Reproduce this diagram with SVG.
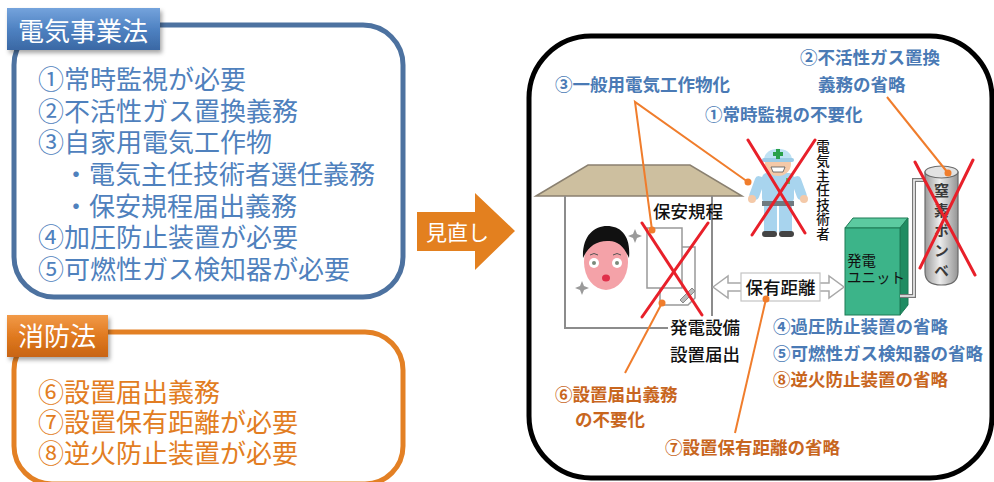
<svg xmlns="http://www.w3.org/2000/svg" width="994" height="482" viewBox="0 0 994 482">
  <style>
    text { font-family: "Noto Sans CJK JP", "Noto Sans CJK SC", sans-serif; }
    .item-blue { font-size: 26px; fill: #4f81bd; }
    .item-orange { font-size: 26px; fill: #e27d22; }
    .title { font-size: 26px; fill: #ffffff; }
    .lbl-blue { font-size: 17.5px; font-weight: 700; fill: #4a7ab5; }
    .lbl-orange { font-size: 17.5px; font-weight: 700; fill: #c8661e; }
    .lbl-black { font-size: 17.5px; font-weight: 500; fill: #111111; }
    .vert { writing-mode: vertical-rl; }
    .cross { stroke: #e8202a; stroke-width: 3; stroke-linecap: round; fill: none; }
    .lead { stroke: #f07d2c; stroke-width: 2; fill: none; }
    .dot { fill: #f07d2c; }
    .wall { stroke: #8c8c8c; stroke-width: 2; fill: none; }
  </style>
  <defs>
    <linearGradient id="gBlue" x1="0" y1="0" x2="0" y2="1">
      <stop offset="0" stop-color="#74a3dc"/>
      <stop offset="0.5" stop-color="#4f82c2"/>
      <stop offset="1" stop-color="#3a68a4"/>
    </linearGradient>
    <linearGradient id="gOrange" x1="0" y1="0" x2="0" y2="1">
      <stop offset="0" stop-color="#f29a48"/>
      <stop offset="0.5" stop-color="#e07a20"/>
      <stop offset="1" stop-color="#c86412"/>
    </linearGradient>
    <linearGradient id="gCyl" x1="0" y1="0" x2="1" y2="0">
      <stop offset="0" stop-color="#9a9a9a"/>
      <stop offset="0.45" stop-color="#ececec"/>
      <stop offset="1" stop-color="#949494"/>
    </linearGradient>
    <filter id="shadow" x="-10%" y="-20%" width="130%" height="160%">
      <feDropShadow dx="2" dy="3" stdDeviation="2" flood-color="#000" flood-opacity="0.35"/>
    </filter>
  </defs>

  <rect width="994" height="482" fill="#ffffff"/>

  <!-- Electricity Business Act panel -->
  <g id="panel-denki">
    <rect x="14" y="25" width="389" height="272" rx="40" fill="none" stroke="#4d72a0" stroke-width="5"/>
    <rect x="7" y="8" width="153" height="42" fill="url(#gBlue)" filter="url(#shadow)"/>
    <text class="title" x="18" y="41">電気事業法</text>
    <text class="item-blue">
      <tspan x="38" y="89">①常時監視が必要</tspan>
      <tspan x="38" y="120.7">②不活性ガス置換義務</tspan>
      <tspan x="38" y="152.3">③自家用電気工作物</tspan>
      <tspan x="63" y="184">・電気主任技術者選任義務</tspan>
      <tspan x="63" y="215.7">・保安規程届出義務</tspan>
      <tspan x="38" y="247.3">④加圧防止装置が必要</tspan>
      <tspan x="38" y="279">⑤可燃性ガス検知器が必要</tspan>
    </text>
  </g>

  <!-- Fire Service Act panel -->
  <g id="panel-shobo">
    <rect x="14" y="332" width="389" height="152" rx="38" fill="none" stroke="#e38024" stroke-width="5"/>
    <rect x="7" y="315" width="101" height="42" fill="url(#gOrange)" filter="url(#shadow)"/>
    <text class="title" x="18" y="346">消防法</text>
    <text class="item-orange">
      <tspan x="38" y="402">⑥設置届出義務</tspan>
      <tspan x="38" y="432">⑦設置保有距離が必要</tspan>
      <tspan x="38" y="463">⑧逆火防止装置が必要</tspan>
    </text>
  </g>

  <!-- Review arrow -->
  <g id="arrow-review">
    <path d="M417,212 H475 V193 L515,231 L475,270 V251 H417 Z" fill="#e3801f"/>
    <text x="426" y="240" font-size="21" fill="#ffffff">見直し</text>
  </g>

  <!-- Right panel frame -->
  <g id="panel-after">
    <rect x="529" y="36" width="463" height="442" rx="62" fill="none" stroke="#000000" stroke-width="5"/>
  </g>

  <!-- House with owner -->
  <g id="house">
    <polygon points="536,196 588,165 690,165 742,196" fill="#cdbf9f" stroke="#8a8070" stroke-width="1.5"/>
    <polyline class="wall" points="565,196 565,328 668,328"/>
    <line class="wall" x1="712" y1="196" x2="712" y2="316"/>
    <!-- owner -->
    <ellipse cx="606" cy="262" rx="22" ry="28" fill="#f4a2a8"/>
    <path d="M583,258 C582,236 594,226 607,226 C621,226 631,236 629,258 C624,246 617,240 607,241 C596,241 588,247 583,258 Z" fill="#111111"/>
    <circle cx="594" cy="263" r="5" fill="#ffffff"/>
    <circle cx="617" cy="263" r="5" fill="#ffffff"/>
    <circle cx="594" cy="263" r="2" fill="#7a8a7a"/>
    <circle cx="617" cy="263" r="2" fill="#7a8a7a"/>
    <path d="M590,255 Q594,252 598,255 M613,255 Q617,252 621,255" stroke="#555" stroke-width="1" fill="none"/>
    <ellipse cx="606" cy="278" rx="4" ry="3.5" fill="#e0304a"/>
    <path d="M635,229 L637,234 L642,236 L637,238 L635,243 L633,238 L628,236 L633,234 Z" fill="#9a9a9a"/>
    <path d="M582,281 L584,286 L589,288 L584,290 L582,295 L580,290 L575,288 L580,286 Z" fill="#9a9a9a"/>
    <!-- safety regulation documents -->
    <path d="M660,247 H695 V298 L688,305 H660 Z" fill="#ffffff" stroke="#999999" stroke-width="1.5"/>
    <rect x="647" y="228" width="35" height="60" fill="#ffffff" stroke="#999999" stroke-width="1.5"/>
    <path d="M680,300 L692,288 L695,291 L683,303 Z" fill="#bbbbbb" stroke="#888" stroke-width="1"/>
    <line class="cross" x1="642" y1="223" x2="702" y2="315"/>
    <line class="cross" x1="708" y1="223" x2="642" y2="317"/>
    <text class="lbl-black" x="653" y="218">保安規程</text>
    <text class="lbl-black">
      <tspan x="670" y="334">発電設備</tspan>
      <tspan x="670" y="361">設置届出</tspan>
    </text>
  </g>

  <!-- Chief electrical engineer -->
  <g id="engineer">
    <rect x="762" y="173" width="32" height="30" rx="5" fill="#a8d4ee"/>
    <rect x="752" y="176" width="10" height="24" rx="4" fill="#a8d4ee" transform="rotate(20 757 188)"/>
    <rect x="794" y="176" width="10" height="24" rx="4" fill="#a8d4ee" transform="rotate(-20 799 188)"/>
    <circle cx="752" cy="199" r="4" fill="#f4c9a8"/>
    <circle cx="804" cy="199" r="4" fill="#f4c9a8"/>
    <rect x="762" y="201" width="32" height="5" fill="#707a80"/>
    <rect x="764" y="206" width="13" height="26" fill="#a8d4ee"/>
    <rect x="779" y="206" width="13" height="26" fill="#a8d4ee"/>
    <rect x="762" y="231" width="15" height="6" rx="3" fill="#444"/>
    <rect x="779" y="231" width="15" height="6" rx="3" fill="#444"/>
    <ellipse cx="778" cy="164" rx="13" ry="12" fill="#f4c9a8"/>
    <path d="M764,160 C764,145 792,145 792,160 Z" fill="#bfe2f4"/>
    <rect x="762" y="158" width="32" height="4" rx="2" fill="#9ccbe6"/>
    <path d="M776,149 h4 v3 h3 v4 h-3 v3 h-4 v-3 h-3 v-4 h3 Z" fill="#2aa04a"/>
    <path d="M771,167 L785,167 L783,172 L773,172 Z" fill="#ffffff" stroke="#555" stroke-width="0.8"/>
    <rect x="786" y="178" width="4" height="6" fill="#5cbf60"/>
    <line class="cross" x1="748" y1="140" x2="805" y2="233"/>
    <line class="cross" x1="815" y1="140" x2="752" y2="235"/>
    <text class="vert" x="823" y="140" font-size="13.5" font-weight="500" fill="#111" letter-spacing="1">電気主任技術者</text>
  </g>

  <!-- Generator unit -->
  <g id="generator">
    <polygon points="845,228 853,218 908,218 900,228" fill="#5ccaa0" stroke="#1c7a55" stroke-width="1"/>
    <polygon points="900,228 908,218 908,305 900,315" fill="#1f8c62" stroke="#1c7a55" stroke-width="1"/>
    <rect x="845" y="228" width="55" height="87" fill="#3cb489" stroke="#1c7a55" stroke-width="1"/>
    <text font-size="14.5" fill="#111">
      <tspan x="847" y="266">発電</tspan>
      <tspan x="847" y="283">ユニット</tspan>
    </text>
  </g>

  <!-- Gas pipe -->
  <g id="pipe">
    <polyline points="900,296 914,296 914,180 927,180" fill="none" stroke="#777777" stroke-width="4"/>
    <polyline points="900,296 914,296 914,180 927,180" fill="none" stroke="#f2f2f2" stroke-width="1.6"/>
  </g>

  <!-- Nitrogen cylinder -->
  <g id="cylinder">
    <path d="M925,172 V272 Q925,285 941.5,285 Q958,285 958,272 V172 Z" fill="url(#gCyl)" stroke="#6a6a6a" stroke-width="1.2"/>
    <ellipse cx="941.5" cy="172" rx="16.5" ry="6" fill="#e2e2e2" stroke="#6a6a6a" stroke-width="1.2"/>
    <text class="vert" x="941.5" y="183" font-size="15" font-weight="700" fill="#3a3a3a" letter-spacing="5">窒素ボンベ</text>
    <line class="cross" x1="915" y1="162" x2="975" y2="275"/>
    <line class="cross" x1="973" y1="160" x2="920" y2="268"/>
  </g>

  <!-- Clearance distance -->
  <g id="clearance">
    <path d="M713,287 L728,276 V283 H829 V276 L844,287 L829,298 V291 H728 V298 Z" fill="#ffffff" stroke="#a8a8a8" stroke-width="1.5"/>
    <rect x="741" y="273" width="79" height="28" fill="#ffffff" stroke="#c4c4c4" stroke-width="1.2"/>
    <text class="lbl-black" x="780.5" y="293.5" text-anchor="middle">保有距離</text>
  </g>

  <!-- Leader lines -->
  <g id="connectors">
    <polyline class="lead" points="748,182 635,102 652,230"/>
    <circle class="dot" cx="748" cy="182" r="3.5"/>
    <circle class="dot" cx="652" cy="230" r="3.5"/>
    <line class="lead" x1="887" y1="97" x2="948" y2="173"/>
    <circle class="dot" cx="948" cy="173" r="3.5"/>
    <line class="lead" x1="662" y1="303" x2="625" y2="373"/>
    <circle class="dot" cx="662" cy="303" r="3.5"/>
    <line class="lead" x1="766" y1="299" x2="735" y2="433"/>
    <circle class="dot" cx="766" cy="299" r="3.5"/>
  </g>

  <!-- Callout labels -->
  <g id="labels">
    <text class="lbl-blue" x="555" y="91">③一般用電気工作物化</text>
    <text class="lbl-blue" x="705" y="121">①常時監視の不要化</text>
    <text class="lbl-blue">
      <tspan x="800" y="64">②不活性ガス置換</tspan>
      <tspan x="818" y="91">義務の省略</tspan>
    </text>
    <text class="lbl-blue">
      <tspan x="773" y="333">④過圧防止装置の省略</tspan>
      <tspan x="773" y="360">⑤可燃性ガス検知器の省略</tspan>
      <tspan x="773" y="386" fill="#c8661e">⑧逆火防止装置の省略</tspan>
    </text>
    <text class="lbl-orange">
      <tspan x="555" y="401">⑥設置届出義務</tspan>
      <tspan x="575" y="426">の不要化</tspan>
    </text>
    <text class="lbl-orange" x="665" y="454">⑦設置保有距離の省略</text>
  </g>
</svg>
